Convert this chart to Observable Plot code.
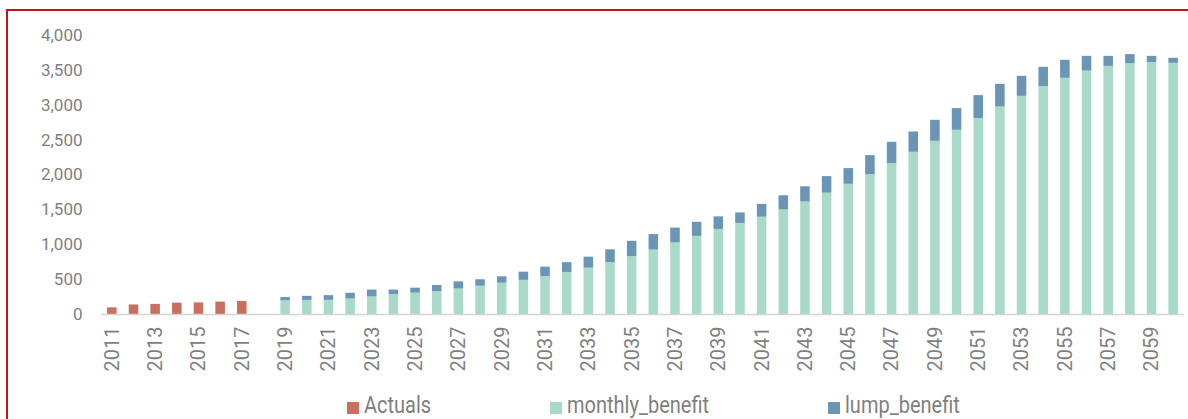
<!DOCTYPE html>
<html>
<head>
<meta charset="utf-8">
<script src="https://cdn.jsdelivr.net/npm/d3@7"></script>
<script src="https://cdn.jsdelivr.net/npm/@observablehq/plot@0.6"></script>
<style>
  html, body { margin: 0; padding: 0; background: #fff; overflow: hidden; }
  body { width: 1188px; height: 419px; position: relative; font-family: Roboto, "Noto Sans", sans-serif; }
  #chart { position: absolute; left: 0; top: 0; }
  #legend { position: relative; width: 1188px; height: 34px; }
  .item { position: absolute; top: 0; }
  .sw { position: absolute; top: 17px; left: 0; width: 12px; height: 12px; }
  .lb { position: absolute; left: 17px; top: 12px; font-size: 20px; line-height: 18px; color: #7f7f7f; white-space: nowrap;
        transform: scaleY(1.2); transform-origin: 0 16px; }
  #frame { position: absolute; left: 6px; top: 9px; width: 1300px; height: 600px; border-left: 2px solid #c0141b; border-top: 2px solid #c0141b; pointer-events: none; z-index: 10; }
</style>
</head>
<body>
<div id="chart"></div>
<div id="frame"></div>
<script>
// ---- data ----
const allYears = ["2011","2012","2013","2014","2015","2016","2017","2018","2019","2020",
  "2021","2022","2023","2024","2025","2026","2027","2028","2029","2030",
  "2031","2032","2033","2034","2035","2036","2037","2038","2039","2040",
  "2041","2042","2043","2044","2045","2046","2047","2048","2049","2050",
  "2051","2052","2053","2054","2055","2056","2057","2058","2059","2060"];
const actualYears = ["2011","2012","2013","2014","2015","2016","2017"];
const actuals = [95, 137, 145, 163, 166, 178, 187];
const projYears = ["2019","2020","2021","2022","2023","2024","2025","2026","2027","2028",
  "2029","2030","2031","2032","2033","2034","2035","2036","2037","2038",
  "2039","2040","2041","2042","2043","2044","2045","2046","2047","2048",
  "2049","2050","2051","2052","2053","2054","2055","2056","2057","2058",
  "2059","2060"];
const monthlyBenefit = [195,202,203,222,252,284,306,328,366,406,
  449,490,543,603,665,745,829,925,1026,1120,
  1220,1306,1395,1500,1614,1740,1867,2006,2164,2326,
  2483,2641,2808,2975,3128,3267,3386,3491,3558,3597,
  3611,3601];
const lumpBenefit = [48,58,67,83,98,66,71,88,102,92,
  92,117,136,140,157,182,221,221,213,202,
  180,150,183,202,217,237,225,272,305,291,
  301,311,330,325,287,277,258,210,143,129,
  90,72];
const xTickLabels = ["2011","2013","2015","2017","2019","2021","2023","2025","2027","2029",
  "2031","2033","2035","2037","2039","2041","2043","2045","2047","2049",
  "2051","2053","2055","2057","2059"];
const yTicks = [0,500,1000,1500,2000,2500,3000,3500,4000];
const seriesNames = ["Actuals","monthly_benefit","lump_benefit"];
const seriesColors = ["#c8705f","#a9d9c8","#6a95b4"];

// ---- build long table ----
const rows = [];
actualYears.forEach((y, i) => rows.push({year: y, series: "Actuals", value: actuals[i]}));
projYears.forEach((y, i) => {
  rows.push({year: y, series: "monthly_benefit", value: monthlyBenefit[i]});
  rows.push({year: y, series: "lump_benefit", value: lumpBenefit[i]});
});

const plot = Plot.plot({
  width: 1188,
  height: 385,
  marginTop: 35,
  marginBottom: 71,
  marginLeft: 101,
  marginRight: 4,
  style: {background: "transparent", fontFamily: "Roboto, 'Noto Sans', sans-serif", color: "#7f7f7f"},
  x: {type: "band", domain: allYears, paddingInner: 0.56, paddingOuter: 0.28, label: null},
  y: {domain: [0, 4000], label: null},
  color: {domain: seriesNames, range: seriesColors},
  marks: [
    Plot.barY(rows, {x: "year", y: "value", fill: "series", order: seriesNames}),
    Plot.ruleY([0], {stroke: "#d4d4d4", strokeWidth: 1.5}),
    Plot.axisY({ticks: yTicks, tickSize: 0, tickPadding: 19, tickFormat: d3.format(","),
      fontSize: 17, fill: "#7f7f7f", label: null}),
    Plot.axisX({ticks: xTickLabels, tickSize: 0, tickPadding: 12, tickRotate: -90,
      fontSize: 20, fill: "#7f7f7f", label: null})
  ]
});
document.getElementById("chart").appendChild(plot);

// ---- legend below the SVG ----
const legend = document.createElement("div");
legend.id = "legend";
const legendX = [347, 550, 828];
seriesNames.forEach((name, i) => {
  const it = document.createElement("div");
  it.className = "item";
  it.style.left = legendX[i] + "px";
  const sw = document.createElement("span");
  sw.className = "sw";
  sw.style.background = seriesColors[i];
  const lb = document.createElement("span");
  lb.className = "lb";
  lb.textContent = name;
  it.appendChild(sw);
  it.appendChild(lb);
  legend.appendChild(it);
});
document.getElementById("chart").appendChild(legend);
</script>
</body>
</html>
